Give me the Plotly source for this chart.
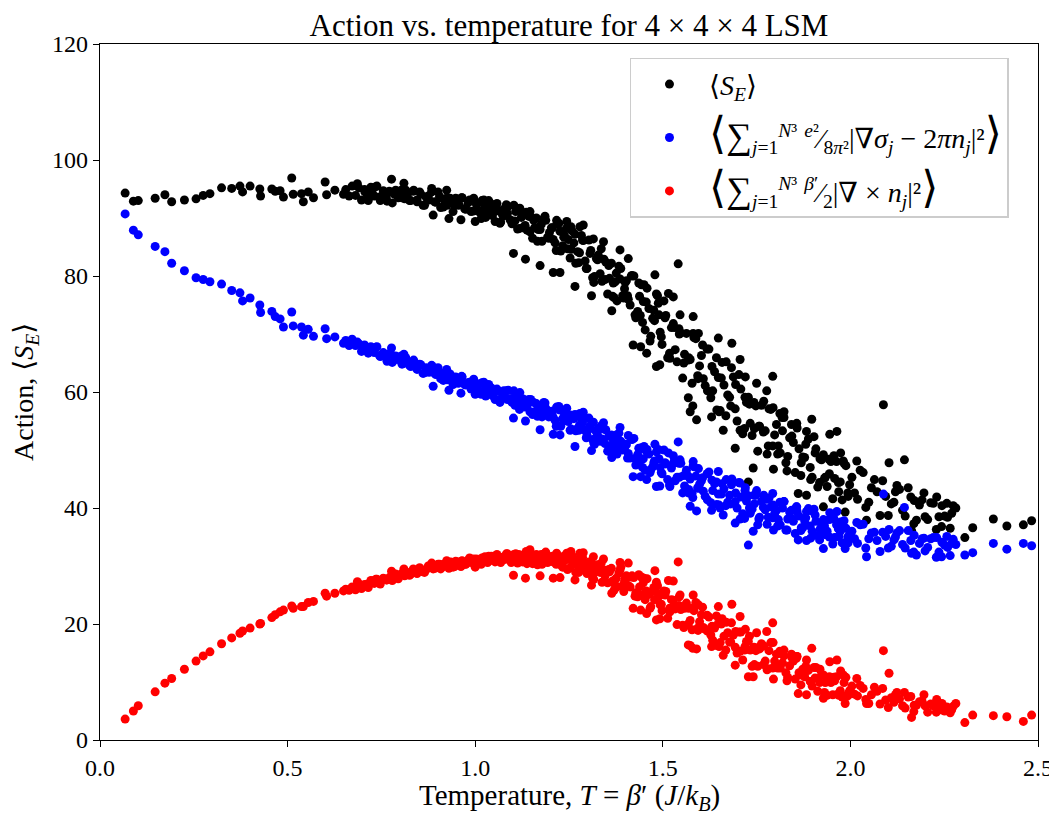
import plotly.graph_objects as go

# Temperature of every run (J/k_B); the three series share the same runs.
temperature = [
    # sparse low-T runs
    0.067, 0.089, 0.102, 0.147, 0.173, 0.191, 0.225, 0.256, 0.275, 0.293,
    0.324, 0.351, 0.373, 0.380, 0.400, 0.426, 0.428, 0.458, 0.467, 0.480,
    0.489, 0.511, 0.515, 0.537, 0.542, 0.555, 0.569, 0.600, 0.604, 0.626, 0.649,
    # 0.65 - 1.0
    0.655, 0.664, 0.672, 0.681, 0.690, 0.697, 0.706, 0.713, 0.722, 0.731,
    0.738, 0.747, 0.756, 0.763, 0.771, 0.779, 0.788, 0.795, 0.803, 0.812,
    0.820, 0.828, 0.836, 0.845, 0.852, 0.861, 0.869, 0.877, 0.884, 0.892,
    0.901, 0.908, 0.916, 0.925, 0.933, 0.941, 0.948, 0.957, 0.964, 0.972,
    0.981, 0.989, 0.996, 0.888, 0.930, 0.962, 1.000, 0.686, 0.777, 0.810,
    0.884, 0.924,
    0.705, 0.715, 0.725, 0.735, 0.745, 0.755, 0.765, 0.775, 0.785, 0.795,
    0.805, 0.815, 0.825, 0.835, 0.845, 0.855, 0.865, 0.875, 0.885, 0.895,
    0.905, 0.915, 0.925, 0.935, 0.945, 0.955, 0.965, 0.975, 0.985, 0.995,
    # 1.0 - 1.5
    1.003, 1.008, 1.013, 1.018, 1.023, 1.028, 1.033, 1.038, 1.043, 1.048,
    1.053, 1.058, 1.063, 1.068, 1.073, 1.078, 1.083, 1.088, 1.093, 1.098,
    1.103, 1.108, 1.113, 1.118, 1.123, 1.128, 1.133, 1.138, 1.143, 1.148,
    1.153, 1.158, 1.163, 1.168, 1.173, 1.178, 1.183, 1.188, 1.193, 1.198,
    1.203, 1.208, 1.213, 1.218, 1.223, 1.228, 1.233, 1.238, 1.243, 1.248,
    1.253, 1.258, 1.263, 1.268, 1.273, 1.278, 1.283, 1.288, 1.293, 1.298,
    1.303, 1.308, 1.313, 1.318, 1.323, 1.328, 1.333, 1.338, 1.343, 1.348,
    1.353, 1.358, 1.363, 1.368, 1.373, 1.378, 1.383, 1.388, 1.393, 1.398,
    1.403, 1.408, 1.413, 1.418, 1.423, 1.428, 1.433, 1.438, 1.443, 1.448,
    1.453, 1.458, 1.463, 1.468, 1.473, 1.478, 1.483, 1.488, 1.493, 1.498,
    1.102, 1.134, 1.173, 1.208, 1.226, 1.266, 1.364, 1.421, 1.441, 1.457,
    1.483, 1.492, 1.288, 1.342, 1.386, 1.408, 1.479, 1.244, 1.279, 1.255,
    1.146, 1.119, 1.217, 1.315, 1.310, 1.370, 1.400, 1.450, 1.440, 1.490,
    1.006, 1.016, 1.026, 1.036, 1.046, 1.056, 1.066, 1.076, 1.086, 1.096,
    1.106, 1.116, 1.126, 1.136, 1.146, 1.156, 1.166, 1.176, 1.186, 1.196,
    1.206, 1.216, 1.226, 1.236, 1.246, 1.256, 1.266, 1.276, 1.286, 1.296,
    1.306, 1.316, 1.326, 1.336, 1.346, 1.356, 1.366, 1.376, 1.386, 1.396,
    1.406, 1.416, 1.426, 1.436, 1.446, 1.456, 1.466, 1.476, 1.486, 1.496,
    # 1.5 - 2.0
    1.503, 1.508, 1.513, 1.518, 1.523, 1.528, 1.533, 1.538, 1.543, 1.548,
    1.553, 1.558, 1.563, 1.568, 1.573, 1.578, 1.583, 1.588, 1.593, 1.598,
    1.603, 1.608, 1.613, 1.618, 1.623, 1.628, 1.633, 1.638, 1.643, 1.648,
    1.653, 1.658, 1.663, 1.668, 1.673, 1.678, 1.683, 1.688, 1.693, 1.698,
    1.703, 1.708, 1.713, 1.718, 1.723, 1.728, 1.733, 1.738, 1.743, 1.748,
    1.753, 1.758, 1.763, 1.768, 1.773, 1.778, 1.783, 1.788, 1.793, 1.798,
    1.803, 1.808, 1.813, 1.818, 1.823, 1.828, 1.833, 1.838, 1.843, 1.848,
    1.853, 1.858, 1.863, 1.868, 1.873, 1.878, 1.883, 1.888, 1.893, 1.898,
    1.903, 1.908, 1.913, 1.918, 1.923, 1.928, 1.933, 1.938, 1.943, 1.948,
    1.953, 1.958, 1.963, 1.968, 1.973, 1.978, 1.983, 1.988, 1.993, 1.998,
    1.541, 1.546, 1.581, 1.595, 1.648, 1.684, 1.706, 1.793, 1.750, 1.720,
    1.728, 1.741, 1.861, 1.883, 1.928, 1.986, 1.568, 1.580, 1.650, 1.693,
    1.795, 1.897, 1.823, 1.964, 1.945, 2.017, 1.974, 1.857, 1.573, 1.590,
    1.630, 1.661, 1.515, 1.528, 1.777, 1.812,
    1.506, 1.519, 1.531, 1.544, 1.556, 1.569, 1.581, 1.594, 1.606, 1.619,
    1.631, 1.644, 1.656, 1.669, 1.681, 1.694, 1.706, 1.719, 1.731, 1.744,
    1.756, 1.769, 1.781, 1.794, 1.806, 1.819, 1.831, 1.844, 1.856, 1.869,
    1.881, 1.894, 1.906, 1.919, 1.931, 1.944, 1.956, 1.969, 1.981, 1.994,
    # 2.0 - 2.5
    2.004, 2.011, 2.019, 2.026, 2.034, 2.041, 2.049, 2.056, 2.064, 2.071,
    2.079, 2.086, 2.094, 2.101, 2.109, 2.116, 2.124, 2.131, 2.139, 2.146,
    2.154, 2.161, 2.169, 2.176, 2.184, 2.191, 2.199, 2.206, 2.214, 2.221,
    2.229, 2.236, 2.244, 2.251, 2.259, 2.266, 2.274, 2.281,
    2.088, 2.103, 2.144, 2.163, 2.120, 2.196, 2.230, 2.170, 2.257, 2.270,
    2.043, 2.243, 2.305, 2.326, 2.381, 2.417, 2.461, 2.483,
]

# <sum e^2/8pi^2 |grad sigma - 2 pi n|^2>  (blue)
gauss_term = [
    90.7, 87.9, 87.1, 85.1, 84.2, 82.2, 80.9, 79.7, 79.4, 79.0,
    78.6, 77.5, 77.1, 75.7, 76.2, 75.0, 73.7, 73.9, 73.0, 72.6,
    71.2, 73.8, 71.4, 71.2, 69.8, 70.8, 69.6, 70.9, 69.2, 69.5, 68.4,
    68.9, 68.0, 69.1, 68.0, 68.3, 67.0, 67.9, 67.1, 67.8, 66.8,
    67.8, 66.1, 66.6, 65.9, 66.6, 65.1, 66.2, 65.6, 66.2, 65.0,
    65.3, 64.4, 65.5, 64.4, 64.8, 63.2, 64.2, 63.4, 64.3, 63.2,
    64.2, 62.3, 62.9, 62.1, 63.1, 61.3, 62.6, 62.0, 62.7, 61.3,
    61.6, 60.5, 62.2, 61.0, 60.3, 59.8, 59.6, 68.6, 67.6, 66.5,
    64.6, 63.9,
    68.1, 66.7, 67.1, 67.7, 66.3, 66.8, 65.3, 66.6, 65.6, 65.7,
    64.8, 65.9, 64.6, 65.1, 63.9, 64.7, 63.3, 63.8, 64.4, 63.0,
    63.4, 62.0, 63.3, 62.2, 62.3, 61.5, 62.6, 61.2, 61.7, 60.5,
    61.2, 60.4, 60.1, 61.6, 61.7, 59.3, 60.2, 60.6, 60.7, 59.8,
    58.7, 60.5, 60.1, 58.7, 59.0, 59.3, 60.2, 60.3, 58.7, 58.2,
    60.2, 59.0, 57.6, 57.0, 58.4, 58.8, 57.4, 57.5, 58.7, 58.7,
    56.1, 56.6, 58.0, 57.3, 57.1, 55.7, 58.2, 57.2, 56.1, 56.4,
    56.7, 55.6, 55.1, 57.3, 57.5, 54.1, 55.4, 56.1, 56.3, 54.9,
    53.4, 56.0, 55.4, 53.3, 53.7, 54.3, 55.5, 55.7, 53.4, 52.6,
    55.5, 53.7, 51.8, 51.0, 53.1, 53.7, 51.5, 51.9, 53.6, 53.5,
    49.8, 50.6, 52.6, 51.7, 51.4, 49.3, 52.9, 51.5, 50.0, 50.4,
    50.9, 49.4, 48.6, 51.8, 52.0, 47.4, 49.2, 50.1, 50.4, 48.5,
    46.5, 50.1, 49.3, 46.6, 47.1, 48.1, 49.7, 50.1, 47.0, 45.9,
    55.5, 55.0, 53.5, 52.7, 52.6, 50.6, 48.7, 45.4, 45.4, 44.9,
    43.7, 43.8, 56.5, 54.7, 53.9, 52.5, 51.0, 57.2, 56.3, 56.0,
    58.3, 59.9, 57.4, 54.8, 49.9, 50.5, 51.0, 50.6, 48.2, 48.5,
    61.4, 59.6, 60.3, 61.3, 59.4, 60.1, 58.2, 60.2, 58.7, 58.9,
    57.7, 59.5, 57.6, 58.5, 56.6, 58.2, 55.8, 56.9, 58.1, 55.7,
    56.6, 54.1, 56.9, 55.0, 55.3, 53.6, 56.1, 53.4, 54.7, 52.1,
    54.2, 51.2, 52.6, 54.2, 51.1, 52.4, 49.1, 52.6, 50.2, 50.6,
    48.6, 51.9, 48.5, 50.3, 47.0, 49.8, 46.1, 47.8, 50.0, 46.1,
    50.0, 47.6, 44.9, 44.0, 46.9, 47.7, 44.7, 45.3, 47.7, 47.7,
    42.6, 43.8, 46.5, 45.5, 45.0, 42.5, 47.1, 45.5, 43.5, 44.1,
    44.7, 42.9, 42.0, 45.9, 46.2, 40.9, 43.0, 44.2, 44.5, 42.4,
    40.0, 44.2, 43.3, 40.4, 41.0, 42.2, 44.0, 44.5, 41.1, 40.0,
    44.4, 41.9, 39.0, 38.2, 41.2, 42.1, 39.1, 39.8, 42.2, 42.2,
    37.1, 38.4, 41.1, 40.1, 39.7, 37.2, 41.7, 40.2, 38.3, 39.0,
    39.6, 38.0, 37.1, 40.8, 41.1, 36.2, 38.1, 39.3, 39.6, 37.7,
    35.6, 39.4, 38.6, 36.1, 36.6, 37.8, 39.4, 39.9, 36.9, 36.0,
    39.8, 37.7, 35.2, 34.5, 37.1, 38.0, 35.4, 36.0, 38.0, 38.1,
    33.8, 34.9, 37.1, 36.4, 36.0, 34.0, 37.8, 36.5, 35.0, 35.5,
    51.4, 48.3, 48.0, 46.8, 46.3, 45.0, 44.3, 42.5, 43.0, 43.5,
    33.6, 36.0, 34.5, 34.4, 33.0, 33.0, 42.6, 41.8, 40.5, 37.4,
    36.2, 39.5, 41.1, 39.4, 39.2, 37.5, 37.6, 40.2, 40.3, 39.5,
    39.6, 38.8, 49.5, 49.0, 41.5, 41.0,
    47.8, 43.7, 48.2, 45.3, 45.6, 43.2, 47.3, 43.4, 45.2, 41.4,
    44.8, 40.6, 42.4, 44.9, 40.7, 42.6, 38.1, 43.0, 40.0, 40.7,
    38.1, 42.2, 38.4, 40.5, 36.9, 40.0, 36.2, 38.2, 40.2, 36.6,
    38.3, 34.8, 38.8, 36.3, 36.9, 35.0, 38.2, 35.1, 36.9, 34.0,
    36.0, 34.7, 33.9, 37.1, 37.2, 33.1, 34.7, 35.7, 35.8, 34.4,
    32.5, 35.8, 35.1, 33.1, 33.4, 34.5, 35.7, 36.1, 33.7, 33.1,
    36.1, 34.4, 32.4, 31.9, 33.9, 34.7, 32.6, 33.2, 34.7, 34.9,
    31.5, 32.4, 34.1, 33.6, 33.2, 31.8, 34.6, 33.7,
    42.4, 36.3, 40.1, 32.2, 35.0, 34.8, 34.9, 35.3, 35.1, 33.9,
    31.6, 31.6, 31.9, 32.3, 33.9, 32.9, 33.9, 33.5,
]

# <sum beta'/2 |curl n|^2>  (red)
curl_term = [
    3.6, 5.0, 5.9, 8.3, 9.8, 10.6, 12.2, 13.6, 14.5, 15.2,
    16.6, 17.6, 18.4, 18.8, 19.3, 20.0, 20.1, 21.1, 21.6, 22.1,
    22.4, 23.1, 22.7, 23.0, 23.0, 23.7, 23.9, 25.3, 24.8, 25.3, 25.7,
    26.0, 25.8, 26.4, 25.9, 26.9, 26.1, 26.6, 26.9, 27.5, 27.0,
    27.7, 26.9, 27.8, 27.6, 28.0, 27.5, 28.6, 28.1, 28.6, 28.3,
    28.9, 28.6, 29.3, 28.7, 29.7, 29.0, 29.4, 29.7, 30.2, 29.6,
    30.3, 29.5, 30.3, 30.1, 30.3, 29.8, 30.8, 30.3, 30.8, 30.3,
    31.0, 30.6, 31.2, 29.5, 29.6, 29.9, 29.8, 27.3, 29.1, 29.5,
    30.5, 30.9,
    26.8, 26.3, 27.4, 27.7, 27.3, 27.9, 27.6, 27.9, 28.5, 27.8,
    28.7, 28.9, 28.4, 29.5, 28.9, 29.4, 28.9, 30.0, 30.2, 29.7,
    30.3, 29.9, 30.2, 30.7, 29.9, 30.7, 30.9, 30.3, 31.4, 30.7,
    31.2, 30.9, 30.8, 31.4, 31.4, 30.8, 30.6, 31.2, 31.7, 31.6,
    30.7, 32.0, 31.1, 30.6, 31.5, 31.1, 32.1, 31.7, 31.0, 30.8,
    32.0, 32.1, 30.5, 31.2, 31.7, 31.9, 31.3, 30.4, 31.6, 31.5,
    30.4, 31.7, 32.0, 30.7, 30.9, 30.3, 31.7, 32.4, 30.6, 31.1,
    31.6, 30.7, 30.6, 31.7, 31.6, 30.2, 29.8, 30.9, 31.9, 31.4,
    29.7, 31.8, 30.3, 28.9, 30.5, 29.7, 31.5, 30.4, 29.2, 28.7,
    30.7, 30.7, 27.9, 28.9, 29.9, 29.9, 28.9, 27.2, 29.3, 28.9,
    27.1, 29.0, 29.6, 27.1, 27.6, 26.4, 28.8, 29.8, 26.6, 27.4,
    28.3, 26.6, 26.4, 28.3, 28.0, 25.4, 24.7, 26.4, 28.1, 27.1,
    24.2, 27.8, 25.1, 23.0, 25.6, 24.2, 27.2, 25.2, 23.3, 22.3,
    28.4, 27.9, 28.3, 27.9, 28.0, 27.6, 25.3, 22.7, 22.4, 21.8,
    20.7, 20.9, 32.3, 31.2, 30.6, 30.5, 29.2, 32.2, 32.2, 32.5,
    32.8, 31.8, 32.2, 31.6, 26.7, 25.8, 27.9, 27.9, 25.0, 24.8,
    31.1, 30.3, 31.6, 31.7, 31.0, 31.6, 30.9, 31.3, 32.1, 30.6,
    31.8, 32.0, 30.7, 32.5, 31.0, 31.4, 30.2, 32.0, 32.2, 30.8,
    31.7, 30.3, 30.8, 31.7, 29.4, 31.0, 31.1, 28.9, 31.5, 29.2,
    29.7, 27.7, 30.2, 30.5, 28.3, 29.4, 27.4, 27.9, 29.3, 25.6,
    28.0, 28.1, 24.8, 28.5, 25.0, 25.7, 22.7, 26.3, 26.6, 23.4,
    25.7, 25.6, 21.0, 22.7, 24.2, 24.1, 22.6, 19.9, 23.2, 22.5,
    19.8, 22.7, 23.6, 20.0, 20.6, 19.0, 22.3, 23.7, 19.3, 20.4,
    21.6, 19.4, 19.1, 21.5, 21.2, 18.1, 17.2, 19.3, 21.4, 20.1,
    16.8, 20.9, 17.9, 15.5, 18.5, 16.9, 20.2, 18.1, 16.0, 15.0,
    18.6, 18.6, 13.8, 15.5, 17.0, 17.0, 15.5, 12.7, 16.0, 15.4,
    12.7, 15.7, 16.6, 13.0, 13.6, 12.1, 15.4, 16.8, 12.4, 13.6,
    14.8, 12.7, 12.4, 14.8, 14.5, 11.6, 10.8, 12.8, 14.8, 13.6,
    10.5, 14.4, 11.6, 9.5, 12.2, 10.9, 13.8, 12.0, 10.1, 9.3,
    12.5, 12.5, 8.4, 9.9, 11.2, 11.2, 9.9, 7.7, 10.4, 9.9,
    7.8, 10.2, 10.9, 8.0, 8.5, 7.4, 9.9, 10.8, 7.6, 8.5,
    30.7, 25.0, 25.0, 23.3, 23.0, 23.4, 21.3, 20.2, 18.5, 19.1,
    10.9, 10.9, 8.0, 7.8, 7.2, 6.3, 16.4, 15.8, 16.1, 12.9,
    10.5, 15.8, 15.5, 13.8, 13.5, 10.6, 11.9, 14.4, 16.3, 15.7,
    16.1, 14.6, 27.5, 27.4, 18.7, 15.3,
    25.0, 22.1, 22.9, 24.7, 19.4, 22.7, 22.8, 18.9, 22.9, 18.8,
    19.6, 16.3, 20.0, 20.3, 16.9, 18.7, 15.3, 16.1, 17.9, 13.0,
    16.0, 16.2, 12.3, 16.8, 12.4, 13.3, 10.2, 14.2, 14.1, 11.2,
    12.7, 10.1, 10.7, 12.2, 8.2, 10.9, 10.8, 7.7, 11.2, 8.0,
    9.3, 7.9, 7.6, 9.4, 8.9, 7.0, 6.3, 7.8, 9.1, 8.4,
    6.2, 8.9, 6.9, 5.6, 7.3, 6.5, 8.2, 7.1, 5.9, 5.5,
    7.4, 7.5, 4.9, 6.0, 6.6, 6.7, 5.9, 4.8, 6.2, 5.9,
    4.8, 6.1, 6.3, 5.0, 5.2, 4.7, 5.8, 6.3,
    15.4, 11.5, 8.2, 3.9, 7.8, 7.8, 7.0, 6.0, 5.7, 5.2,
    6.3, 5.2, 3.0, 4.3, 4.2, 4.0, 3.2, 4.3,
]

# <S_E>, total action (black)
action_total = [
    94.3, 92.9, 93.0, 93.4, 94.0, 92.8, 93.1, 93.3, 93.9, 94.2,
    95.2, 95.1, 95.5, 94.5, 95.5, 95.0, 93.8, 95.0, 94.6, 94.7,
    93.6, 96.9, 94.1, 94.2, 92.8, 94.5, 93.5, 96.2, 94.0, 94.8, 94.1,
    94.9, 93.8, 95.5, 93.9, 95.2, 93.1, 94.5, 94.0, 95.3, 93.8,
    95.5, 93.0, 94.4, 93.5, 94.6, 92.6, 94.8, 93.7, 94.8, 93.3,
    94.2, 93.0, 94.8, 93.1, 94.5, 92.2, 93.6, 93.1, 94.5, 92.8,
    94.5, 91.8, 93.2, 92.2, 93.4, 91.1, 93.4, 92.3, 93.5, 91.6,
    92.6, 91.1, 93.4, 90.5, 89.9, 89.7, 89.4, 95.9, 96.7, 96.0,
    95.1, 94.8,
    94.9, 93.0, 94.5, 95.4, 93.6, 94.7, 92.9, 94.5, 94.1, 93.5,
    93.5, 94.8, 93.0, 94.6, 92.8, 94.1, 92.2, 93.8, 94.6, 92.7,
    93.7, 91.9, 93.5, 92.9, 92.2, 92.2, 93.5, 91.5, 93.1, 91.2,
    92.4, 91.3, 90.9, 93.0, 93.1, 90.1, 90.8, 91.8, 92.4, 91.4,
    89.4, 92.5, 91.2, 89.3, 90.5, 90.4, 92.3, 92.0, 89.7, 89.0,
    92.2, 91.1, 88.1, 88.2, 90.1, 90.7, 88.7, 87.9, 90.3, 90.2,
    86.5, 88.3, 90.0, 88.0, 88.0, 86.0, 89.9, 89.6, 86.7, 87.5,
    88.3, 86.3, 85.7, 89.0, 89.1, 84.3, 85.2, 87.0, 88.2, 86.3,
    83.1, 87.8, 85.7, 82.2, 84.2, 84.0, 87.0, 86.1, 82.6, 81.3,
    86.2, 84.4, 79.7, 79.9, 83.0, 83.6, 80.4, 79.1, 82.9, 82.4,
    76.9, 79.6, 82.2, 78.8, 79.0, 75.7, 81.7, 81.3, 76.6, 77.8,
    79.2, 76.0, 75.0, 80.1, 80.0, 72.8, 73.9, 76.5, 78.5, 75.6,
    70.7, 77.9, 74.4, 69.6, 72.7, 72.3, 76.9, 75.3, 70.3, 68.2,
    83.9, 82.9, 81.8, 80.6, 80.6, 78.2, 74.0, 68.1, 67.8, 66.7,
    64.4, 64.7, 88.8, 85.9, 84.5, 83.0, 80.2, 89.4, 88.5, 88.5,
    91.1, 91.7, 89.6, 86.4, 76.6, 76.3, 78.9, 78.5, 73.2, 73.3,
    92.5, 89.9, 91.9, 93.0, 90.4, 91.7, 89.1, 91.5, 90.8, 89.5,
    89.5, 91.5, 88.3, 91.0, 87.6, 89.6, 86.0, 88.9, 90.3, 86.5,
    88.3, 84.4, 87.7, 86.7, 84.7, 84.6, 87.2, 82.3, 86.2, 81.3,
    83.9, 78.9, 82.8, 84.7, 79.4, 81.8, 76.5, 80.5, 79.5, 76.2,
    76.6, 80.0, 73.3, 78.8, 72.0, 75.5, 68.8, 74.1, 76.6, 69.5,
    75.7, 73.2, 65.9, 66.7, 71.1, 71.8, 67.3, 65.2, 70.9, 70.2,
    62.4, 66.5, 70.1, 65.5, 65.6, 61.5, 69.4, 69.2, 62.8, 64.5,
    66.3, 62.3, 61.1, 67.4, 67.4, 59.0, 60.2, 63.5, 65.9, 62.5,
    56.8, 65.1, 61.2, 55.9, 59.5, 59.1, 64.2, 62.6, 57.1, 55.0,
    63.0, 60.5, 52.8, 53.7, 58.2, 59.1, 54.6, 52.5, 58.2, 57.6,
    49.8, 54.1, 57.7, 53.1, 53.3, 49.3, 57.1, 57.0, 50.7, 52.6,
    54.4, 50.7, 49.5, 55.6, 55.6, 47.8, 48.9, 52.1, 54.4, 51.3,
    46.1, 53.8, 50.2, 45.6, 48.8, 48.7, 53.2, 51.9, 47.0, 45.3,
    52.3, 50.2, 43.6, 44.4, 48.3, 49.2, 45.3, 43.7, 48.4, 48.0,
    41.6, 45.1, 48.0, 44.4, 44.5, 41.4, 47.7, 47.3, 42.6, 44.0,
    82.1, 73.3, 73.0, 70.1, 69.3, 68.4, 65.6, 62.7, 61.5, 62.6,
    44.5, 46.9, 42.5, 42.2, 40.2, 39.3, 59.0, 57.6, 56.6, 50.3,
    46.7, 55.3, 56.6, 53.2, 52.7, 48.1, 49.5, 54.6, 56.6, 55.2,
    55.7, 53.4, 77.0, 76.4, 60.2, 56.3,
    72.8, 65.8, 71.1, 70.0, 65.0, 65.9, 70.1, 62.3, 68.1, 60.2,
    64.4, 56.9, 62.4, 65.2, 57.6, 61.3, 53.4, 59.1, 57.9, 53.7,
    54.1, 58.4, 50.7, 57.3, 49.3, 53.3, 46.4, 52.4, 54.3, 47.8,
    51.0, 44.9, 49.5, 48.5, 45.1, 45.9, 49.0, 42.8, 48.1, 42.0,
    45.3, 42.6, 41.5, 46.5, 46.1, 40.1, 41.0, 43.5, 44.9, 42.8,
    38.7, 44.7, 42.0, 38.7, 40.7, 41.0, 43.9, 43.2, 39.6, 38.6,
    43.5, 41.9, 37.3, 37.9, 40.5, 41.4, 38.5, 38.0, 40.9, 40.8,
    36.3, 38.5, 40.4, 38.6, 38.4, 36.5, 40.4, 40.0,
    57.8, 47.8, 48.3, 36.1, 42.8, 42.6, 41.9, 41.3, 40.8, 39.1,
    37.9, 36.8, 34.9, 36.6, 38.1, 36.9, 37.1, 37.8,
]

assert len(temperature) == len(gauss_term) == len(curl_term) == len(action_total), (
    len(temperature), len(gauss_term), len(curl_term), len(action_total))

x_ticks = [0.0, 0.5, 1.0, 1.5, 2.0, 2.5]
y_ticks = [0, 20, 40, 60, 80, 100, 120]

SERIF = "Liberation Serif, DejaVu Serif, serif"

pad = "\u2002\u2009"   # push legend text a little right of the markers
big_l = '<span style="font-size:44px">⟨</span>'
big_r = '<span style="font-size:44px">⟩</span>'
big_sum = '<span style="font-size:36px">∑</span>'
label_total = pad + "⟨<i>S</i><sub><i>E</i></sub>⟩"
label_gauss = (pad + big_l + big_sum + "<sub><i>j</i>=1</sub><sup><i>N</i>³</sup> "
               "<sup><i>e</i>²</sup>⁄<sub>8<i>π</i>²</sub>"
               "|∇<i>σ</i><sub><i>j</i></sub> − 2<i>πn</i><sub><i>j</i></sub>|²" + big_r)
label_curl = (pad + big_l + big_sum + "<sub><i>j</i>=1</sub><sup><i>N</i>³</sup> "
              "<sup><i>β</i>′</sup>⁄<sub>2</sub>"
              "|∇ × <i>n</i><sub><i>j</i></sub>|²" + big_r)

fig = go.Figure()
fig.add_trace(go.Scatter(x=temperature, y=action_total, mode="markers", name=label_total,
                         legendgroup="a", marker=dict(color="#000000", size=9)))
fig.add_trace(go.Scatter(x=temperature, y=gauss_term, mode="markers", name=label_gauss,
                         legendgroup="b", marker=dict(color="#0000ff", size=9)))
fig.add_trace(go.Scatter(x=temperature, y=curl_term, mode="markers", name=label_curl,
                         legendgroup="c", marker=dict(color="#ff0000", size=9)))

axis_common = dict(
    showline=True, linecolor="black", linewidth=1.3, mirror=True,
    ticks="outside", ticklen=6, tickwidth=1.3, tickcolor="black",
    showgrid=False, zeroline=False, tickfont=dict(family=SERIF, size=24, color="black"),
)

# the page body has an 8px margin, so the margins are offset to land the axes
# at the same spot as the reference picture
fig.update_layout(
    width=1057, height=816,
    margin=dict(l=92, r=27, t=36, b=84),
    plot_bgcolor="white", paper_bgcolor="white",
    font=dict(family=SERIF, size=24, color="black"),
    title=dict(text="Action vs. temperature for 4 × 4 × 4 LSM", x=0.5, xref="paper",
               y=1 - 17 / 816, yref="container", yanchor="middle",
               font=dict(family=SERIF, size=31)),
    legend=dict(x=0.565, y=0.98, xanchor="left", yanchor="top", bgcolor="white",
                bordercolor="#cccccc", borderwidth=1.5, font=dict(family=SERIF, size=28),
                traceorder="grouped", tracegroupgap=14, itemwidth=30, indentation=18),
    xaxis=dict(range=[0, 2.5], tickvals=x_ticks, ticktext=[f"{v:.1f}" for v in x_ticks], **axis_common),
    yaxis=dict(range=[0, 120], tickvals=y_ticks, **axis_common),
    annotations=[
        dict(text="Temperature, <i>T</i> = <i>β</i>′ (<i>J</i>/<i>k</i><sub><i>B</i></sub>)",
             xref="paper", yref="paper", x=0.5, y=-0.082, yanchor="middle",
             showarrow=False, font=dict(family=SERIF, size=29)),
        dict(text="Action, ⟨<i>S</i><sub><i>E</i></sub>⟩", textangle=-90,
             xref="paper", yref="paper", x=-0.08, y=0.5, xanchor="center",
             showarrow=False, font=dict(family=SERIF, size=28)),
    ],
)

fig.write_html("out.html")
